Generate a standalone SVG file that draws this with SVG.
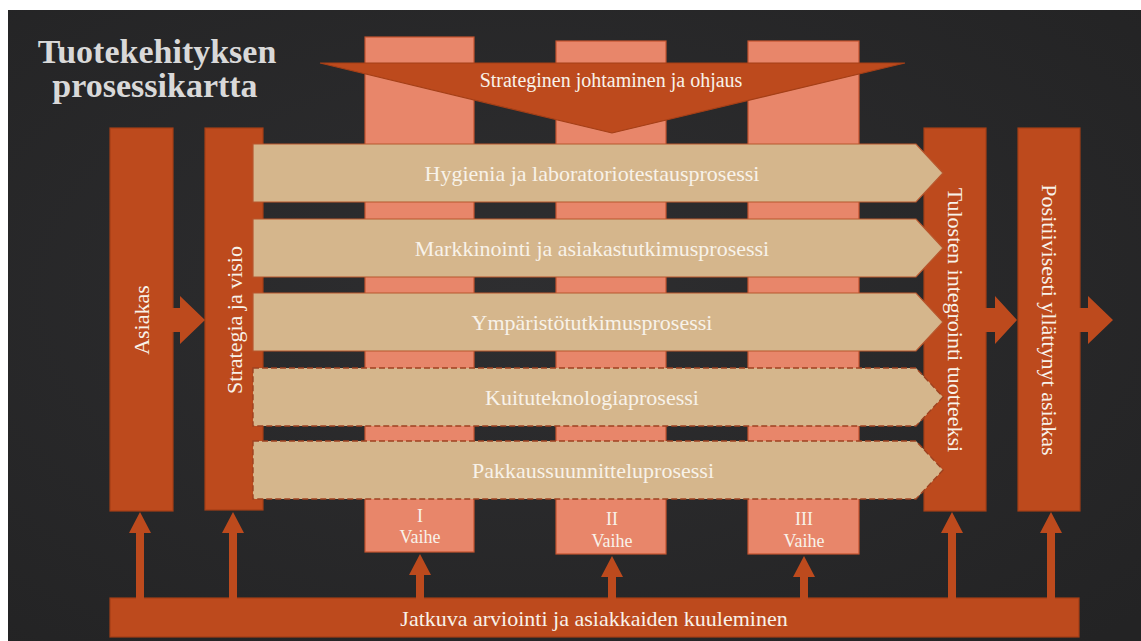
<svg xmlns="http://www.w3.org/2000/svg" width="1141" height="641" viewBox="0 0 1141 641">
  <defs>
    <radialGradient id="bgGrad" cx="0.45" cy="0.45" r="0.75">
      <stop offset="0" stop-color="#2e2e30"/>
      <stop offset="1" stop-color="#232324"/>
    </radialGradient>
    <style>
      .dark { fill: #bd4a1d; stroke: #a43f17; stroke-width: 1.2; }
      .phase { fill: #e8866a; stroke: #c4542f; stroke-width: 1.2; }
      .bar { fill: #d5b68c; stroke: #b8562d; stroke-width: 1.2; }
      .bar-dash { fill: #d5b68c; stroke: #9e4220; stroke-width: 1.4; stroke-dasharray: 6 3; }
      .arrow { fill: #bd4a1d; }
      .lbl { font-family: "Liberation Serif", "DejaVu Serif", serif; fill: #f8f2e9; text-anchor: middle; }
      .title { font-family: "Liberation Serif", "DejaVu Serif", serif; font-weight: bold; font-size: 34px; fill: #d9d9d9; text-anchor: middle; }
    </style>
  </defs>

  <!-- page and dark slide -->
  <rect x="0" y="0" width="1141" height="641" fill="#ffffff"/>
  <rect x="8" y="10" width="1133" height="631" fill="url(#bgGrad)"/>

  <!-- title -->
  <g id="title">
    <text class="title" x="157" y="63">Tuotekehityksen</text>
    <text class="title" x="155" y="97">prosessikartta</text>
  </g>

  <!-- phase columns -->
  <g id="phase-1">
    <rect class="phase" x="365" y="37" width="109" height="515"/>
    <text class="lbl" x="420" y="522" font-size="18">I</text>
    <text class="lbl" x="420" y="543" font-size="18">Vaihe</text>
  </g>
  <g id="phase-2">
    <rect class="phase" x="556" y="41" width="110" height="513"/>
    <text class="lbl" x="612" y="525" font-size="18">II</text>
    <text class="lbl" x="612" y="547" font-size="18">Vaihe</text>
  </g>
  <g id="phase-3">
    <rect class="phase" x="748" y="41" width="111" height="513"/>
    <text class="lbl" x="804" y="525" font-size="18">III</text>
    <text class="lbl" x="804" y="547" font-size="18">Vaihe</text>
  </g>

  <!-- strategic steering wedge -->
  <g id="strateginen">
    <polygon class="dark" points="320,63 905,63 612,133"/>
    <text class="lbl" x="611" y="87" font-size="20">Strateginen johtaminen ja ohjaus</text>
  </g>

  <!-- side columns -->
  <g id="asiakas">
    <rect class="dark" x="110" y="128" width="63" height="383"/>
    <text class="lbl" font-size="22" dominant-baseline="central" transform="translate(141,320) rotate(-90)">Asiakas</text>
  </g>
  <g id="strategia">
    <rect class="dark" x="205" y="128" width="58" height="382"/>
    <text class="lbl" font-size="22" dominant-baseline="central" transform="translate(234,320) rotate(-90)">Strategia ja visio</text>
  </g>
  <g id="tulosten">
    <rect class="dark" x="924" y="128" width="62" height="383"/>
    <text class="lbl" font-size="22" dominant-baseline="central" transform="translate(955,320) rotate(90)">Tulosten integrointi tuotteeksi</text>
  </g>
  <g id="positiivisesti">
    <rect class="dark" x="1018" y="128" width="62" height="383"/>
    <text class="lbl" font-size="22" dominant-baseline="central" transform="translate(1049,320) rotate(90)">Positiivisesti yllättynyt asiakas</text>
  </g>

  <!-- process lanes -->
  <g id="hygienia">
    <polygon class="bar" points="253,144 916,144 943,173 916,202 253,202"/>
    <text class="lbl" x="592" y="181" font-size="22">Hygienia ja laboratoriotestausprosessi</text>
  </g>
  <g id="markkinointi">
    <polygon class="bar" points="253,219 916,219 943,248 916,277 253,277"/>
    <text class="lbl" x="592" y="256" font-size="22">Markkinointi ja asiakastutkimusprosessi</text>
  </g>
  <g id="ymparisto">
    <polygon class="bar" points="253,293 916,293 943,322 916,351 253,351"/>
    <text class="lbl" x="592" y="330" font-size="22">Ympäristötutkimusprosessi</text>
  </g>
  <g id="kuitu">
    <polygon class="bar-dash" points="253,368 916,368 943,397 916,426 253,426"/>
    <text class="lbl" x="592" y="405" font-size="22">Kuituteknologiaprosessi</text>
  </g>
  <g id="pakkaus">
    <polygon class="bar-dash" points="253,441 916,441 943,470 916,499 253,499"/>
    <text class="lbl" x="593" y="478" font-size="22">Pakkaussuunnitteluprosessi</text>
  </g>

  <!-- continuous evaluation base -->
  <g id="jatkuva">
    <rect class="dark" x="110" y="598" width="969" height="39"/>
    <text class="lbl" x="594" y="626" font-size="22">Jatkuva arviointi ja asiakkaiden kuuleminen</text>
  </g>

  <!-- block arrows -->
  <g id="connectors">
    <polygon class="arrow" points="172,308 180,308 180,296 205,320 180,344 180,332 172,332"/>
    <polygon class="arrow" points="985,308 995,308 995,296 1017,320 995,344 995,332 985,332"/>
    <polygon class="arrow" points="1079,308 1088,308 1088,296 1113,320 1088,344 1088,332 1079,332"/>

    <polygon class="arrow" points="136,599 136,533 129,533 140,512 151,533 144,533 144,599"/>
    <polygon class="arrow" points="229,599 229,533 222,533 233,512 244,533 237,533 237,599"/>
    <polygon class="arrow" points="416,599 416,575 409,575 420,554 431,575 424,575 424,599"/>
    <polygon class="arrow" points="608,599 608,577 601,577 612,556 623,577 616,577 616,599"/>
    <polygon class="arrow" points="800,599 800,577 793,577 804,556 815,577 808,577 808,599"/>
    <polygon class="arrow" points="948,599 948,533 941,533 952,512 963,533 956,533 956,599"/>
    <polygon class="arrow" points="1047,599 1047,533 1040,533 1051,512 1062,533 1055,533 1055,599"/>
  </g>
</svg>
